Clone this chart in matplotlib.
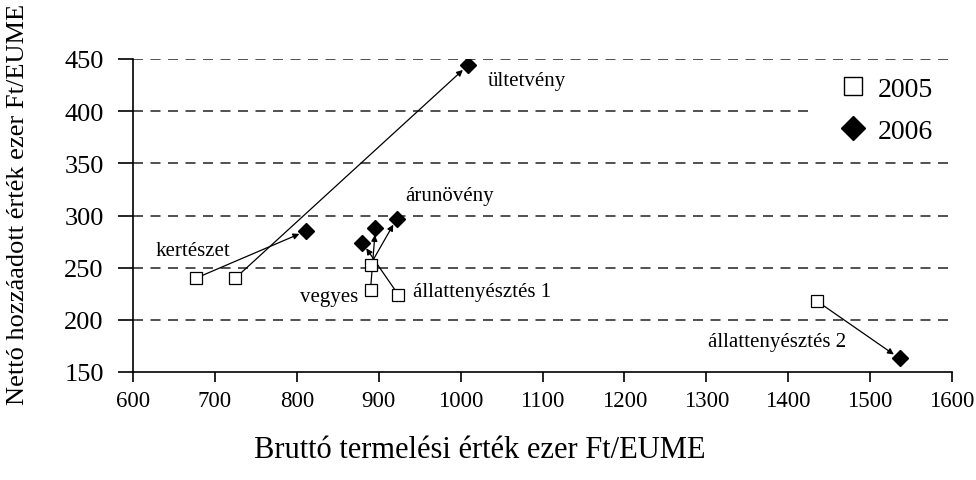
import matplotlib
matplotlib.use("Agg")
import matplotlib.pyplot as plt
from matplotlib.lines import Line2D

plt.rcParams['font.family'] = ['Liberation Serif', 'DejaVu Serif']

# 2005 -> 2006 per farm type
types = ['ültetvény', 'kertészet', 'vegyes', 'árunövény', 'állattenyésztés 1', 'állattenyésztés 2']
x2005 = [725, 677, 890, 890, 924, 1435]
y2005 = [240, 240, 229, 253, 224, 218]
x2006 = [1009, 811, 896, 922, 880, 1536]
y2006 = [444, 285, 288, 297, 274, 163]

# label anchor (left, middle) in data units
lab_x = [1033, 627, 804, 932, 942, 1302]
lab_y = [429, 266, 222, 319, 227, 179]

fig = plt.figure(figsize=(9.76, 4.81), dpi=100)
ax = fig.add_axes([133/976, 1-373/481, (952-133)/976, (373-60)/481])

for yv in [200, 250, 300, 350, 400, 450]:
    # the 400 line stops where the legend sits
    xmax = (815-133)/819 if yv == 400 else 1
    ax.axhline(yv, xmax=xmax, color='#333333', lw=1.2, ls=(0, (6, 4.5)), zorder=0)

for i in range(len(types)):
    ax.annotate('', xy=(x2006[i], y2006[i]), xytext=(x2005[i], y2005[i]),
                arrowprops=dict(arrowstyle='-|>', color='black', lw=0.9,
                                mutation_scale=9, shrinkA=4, shrinkB=5),
                zorder=2)

ax.plot(x2005, y2005, ls='none', marker='s', ms=8.3, mfc='white', mec='black',
        mew=0.9, zorder=3)
ax.plot(x2006, y2006, ls='none', marker='D', ms=7.8, mfc='black', mec='black',
        zorder=3)

for i, t in enumerate(types):
    ax.text(lab_x[i], lab_y[i], t, fontsize=15, ha='left', va='center')

ax.set_xlim(600, 1600)
ax.set_ylim(150, 450)
ax.set_xticks(range(600, 1601, 100))
ax.set_yticks(range(150, 451, 50))
ax.tick_params(axis='x', direction='out', length=7, width=1.2, labelsize=16.5, pad=6)
ax.tick_params(axis='y', direction='out', length=11, width=1.2, labelsize=19, pad=10)
ax.spines['top'].set_visible(False)
ax.spines['right'].set_visible(False)
ax.spines['left'].set_linewidth(1.2)
ax.spines['bottom'].set_linewidth(1.2)

handles = [Line2D([], [], ls='none', marker='s', ms=12.5, mfc='white', mec='black', mew=1.0),
           Line2D([], [], ls='none', marker='D', ms=12, mfc='black', mec='black')]
ax.legend(handles, ['2005', '2006'], loc='center left',
          bbox_to_anchor=(822/976, 1-111/481), bbox_transform=fig.transFigure,
          fontsize=20, frameon=False, labelspacing=0.6, handletextpad=0.3,
          borderpad=0, handlelength=1.2)

fig.text(480/976, 1-450/481, 'Bruttó termelési érték ezer Ft/EUME', fontsize=22,
         ha='center', va='center')
fig.text(18/976, 1-204/481, 'Nettó hozzáadott érték ezer Ft/EUME', fontsize=19,
         ha='center', va='center', rotation=90)

fig.savefig('out.png', dpi=100)
